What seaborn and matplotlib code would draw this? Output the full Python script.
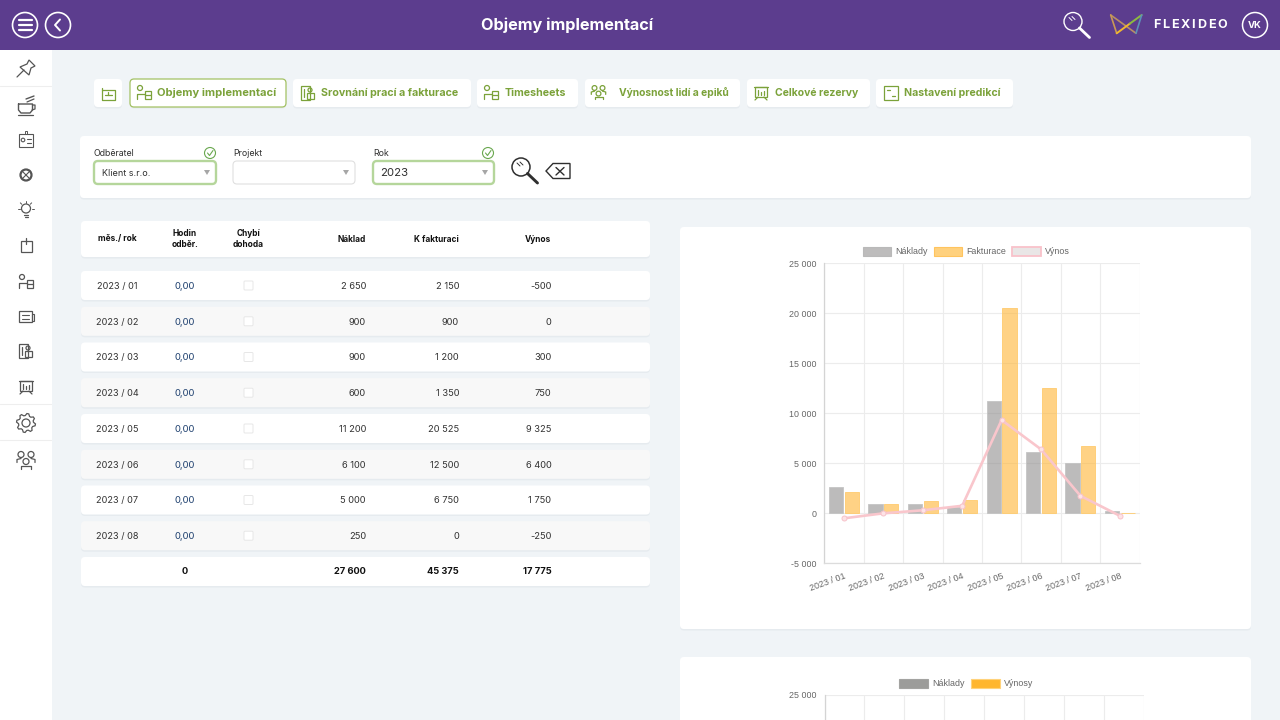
"""Objemy implementací - dashboard screen with table and bar/line chart."""

import numpy as np
import pandas as pd
import seaborn as sns
import matplotlib
matplotlib.use("Agg")
import matplotlib.pyplot as plt
from matplotlib.patches import Circle, FancyBboxPatch, Rectangle, Polygon
from matplotlib.ticker import FuncFormatter, MultipleLocator, FixedLocator, NullFormatter
from matplotlib.transforms import ScaledTranslation

months = ["2023 / 01", "2023 / 02", "2023 / 03", "2023 / 04", "2023 / 05", "2023 / 06", "2023 / 07", "2023 / 08"]
hours = ["0,00"] * 8
naklady = [2650, 900, 900, 600, 11200, 6100, 5000, 250]
fakturace = [2150, 900, 1200, 1350, 20525, 12500, 6750, 0]
vynos = [-500, 0, 300, 750, 9325, 6400, 1750, -250]
totals = ["0", "27 600", "45 375", "17 775"]
nav_labels = ["Objemy implementací", "Srovnání prací a fakturace", "Timesheets",
              "Výnosnost lidí a epiků", "Celkové rezervy", "Nastavení predikcí"]

PURPLE = "#5c3d8e"
PAGE = "#f0f4f7"
GREEN = "#7ba23a"
INK = "#2f2f2f"
ICON = "#555555"
UI_FONT = "Inter"
CHART_FONT = "Liberation Sans"

sns.set_theme(style="white")
plt.rcParams["font.family"] = [UI_FONT, "DejaVu Sans"]

fig = plt.figure(figsize=(12.8, 7.2), dpi=100, facecolor=PAGE)
bg = fig.add_axes([0, 0, 1, 1], zorder=0)
bg.set_xlim(0, 1280)
bg.set_ylim(720, 0)
bg.axis("off")


def card(x0, y0, x1, y1, color="white", edge="none", lw=0, r=4, shadow=True):
    if shadow:
        bg.add_patch(FancyBboxPatch((x0, y0 + 1.5), x1 - x0, y1 - y0, boxstyle=f"round,pad=0,rounding_size={r}",
                                    fc="#e6ebef", ec="none", zorder=1))
    bg.add_patch(FancyBboxPatch((x0, y0), x1 - x0, y1 - y0, boxstyle=f"round,pad=0,rounding_size={r}",
                                fc=color, ec=edge, lw=lw, zorder=2))


def line(xs, ys, color=INK, lw=1.0, z=5):
    bg.plot(xs, ys, color=color, lw=lw, zorder=z, solid_capstyle="round")


def ring(x, y, r, color=INK, lw=1.0, fc="none", z=5):
    bg.add_patch(Circle((x, y), r, fc=fc, ec=color, lw=lw, zorder=z))


def box(x, y, w, h, color=INK, lw=1.0, fc="none", z=5):
    bg.add_patch(Rectangle((x, y), w, h, fc=fc, ec=color, lw=lw, zorder=z))


def label(x, y, s, size=6.5, color=INK, ha="center", weight="normal", family=UI_FONT, z=6):
    bg.text(x, y, s, fontsize=size, color=color, ha=ha, va="center", fontweight=weight, family=family, zorder=z)


def magnifier(x, y, color=INK, lw=1.1):
    ring(x, y, 9, color, lw)
    line([x + 6.5, x + 16.5], [y + 6.5, y + 16], color, lw + 1.0)
    line([x - 4, x - 1], [y - 4, y - 1], color, 0.7)
    line([x - 1, x + 2], [y - 5, y - 2], color, 0.7)


def person_desk(x, y, color=ICON, lw=0.9):
    ring(x - 4, y - 5, 2.5, color, lw)
    line([x - 7, x - 7, x + 1], [y + 6, y + 1, y + 1], color, lw)
    box(x + 1, y - 2, 6, 8, color, lw)
    line([x + 1, x + 7], [y + 2, y + 2], color, lw)


def doc_chart(x, y, color=ICON, lw=0.9):
    box(x - 6, y - 7, 9, 14, color, lw)
    box(x, y, 7, 6, color, lw)
    line([x - 3, x - 3], [y - 4, y + 4], color, lw)
    ring(x + 3, y - 3, 2, color, lw)


def board(x, y, color=ICON, lw=0.9):
    box(x - 6, y - 6, 12, 10, color, lw)
    line([x - 7, x + 7], [y - 6, y - 6], color, lw)
    line([x - 3, x - 6], [y + 4, y + 7], color, lw)
    line([x + 3, x + 6], [y + 4, y + 7], color, lw)
    line([x - 3, x - 3], [y - 3, y + 2], color, lw)
    line([x, x], [y - 1, y + 2], color, lw)
    line([x + 3, x + 3], [y - 2, y + 2], color, lw)


def people(x, y, color=ICON, lw=0.9, k=1.0):
    for dx, dy in [(-5, -5), (5, -5), (0, 2)]:
        ring(x + dx * k, y + dy * k, 3 * k, color, lw, fc="white")
    line([x - 9 * k, x - 9 * k, x - 5 * k], [y + 3 * k, y, y - k], color, lw)
    line([x + 9 * k, x + 9 * k, x + 5 * k], [y + 3 * k, y, y - k], color, lw)
    line([x - 5 * k, x - 5 * k, x + 5 * k, x + 5 * k], [y + 9 * k, y + 6 * k, y + 6 * k, y + 9 * k], color, lw)


def gear(x, y, color=ICON, lw=0.9):
    angles = np.deg2rad(np.arange(0, 360, 11.25) + 5.6)
    radii = [9.5, 9.5, 7.5, 7.5] * 8
    pts = [[x + r * np.cos(a), y + r * np.sin(a)] for r, a in zip(radii, angles)]
    bg.add_patch(Polygon(pts, fc="none", ec=color, lw=lw, zorder=5))
    ring(x, y, 4, color, lw)


# header bar
bg.add_patch(Rectangle((0, 0), 1280, 50, fc=PURPLE, ec="none", zorder=3))
ring(25, 25, 12.5, "white", 1.2, z=5)
for yy in [20, 25, 30]:
    line([18.5, 31.5], [yy, yy], "white", 1.6)
ring(58, 25, 12.5, "white", 1.2, z=5)
line([60, 55, 60], [19.5, 25, 30.5], "white", 1.4)
label(567, 25.5, "Objemy implementací", size=11.7, color="white", weight="bold")
magnifier(1073, 21.5, "white", 1.0)
line([1110.7, 1136], [15, 33.3], "#b98f62", 1.2)
line([1110.7, 1116.7], [15, 33.3], "#c99a55", 1.2)
line([1116.7, 1130], [33.3, 23.5], "#f0b72f", 1.4)
line([1130, 1141.7], [23.5, 15], "#8dbb3f", 1.4)
line([1141.7, 1136], [15, 33.3], "#5c8fb8", 1.2)
for xx, ch in zip([1157, 1166, 1175.3, 1185.3, 1193.1, 1201.2, 1211.5, 1222.2], "FLEXIDEO"):
    bg.text(xx, 24.5, ch, fontsize=9.0, color="white", ha="center", va="center", fontweight="bold",
            family=UI_FONT, zorder=6)
ring(1255, 25, 12.5, "white", 1.1)
label(1255, 25.5, "VK", size=6.8, color="white", weight="bold")

# sidebar
bg.add_patch(Rectangle((0, 50), 51.5, 670, fc="white", ec="none", zorder=3))
for yy in [86, 404, 440]:
    line([0, 51], [yy, yy], "#eeeeee", 0.8)
line([17, 24], [77, 70], ICON, 0.9)
bg.add_patch(Polygon([[29, 60], [35, 66], [31, 68], [29, 75], [20, 67], [27, 64]], fc="none", ec=ICON, lw=0.9, zorder=5))
line([18.5, 18.5, 21, 30, 32.5, 32.5, 18.5], [104, 110, 113, 113, 110, 104, 104], ICON, 1.0)
line([32.5, 35, 35, 32], [105, 105, 109, 110], ICON, 0.9)
line([18, 33], [114.5, 114.5], ICON, 0.9)
line([26, 34], [99, 96], ICON, 1.0)
line([27, 34], [102, 99], ICON, 0.9)
box(19, 134, 14, 13, ICON, 0.8)
ring(23, 140, 1.8, ICON, 0.8)
line([27, 31], [139, 139], ICON, 0.8)
line([27, 31], [143, 143], ICON, 0.8)
box(24.5, 131, 2.5, 3, ICON, 0.7)
ring(26, 175, 5.5, ICON, 1.6)
line([22, 30], [171, 179], ICON, 0.8)
line([30, 22], [171, 179], ICON, 0.8)
ring(26, 208.5, 4.5, ICON, 0.9)
line([24, 28], [215, 215], ICON, 0.9)
line([24.5, 27.5], [217, 217], ICON, 0.9)
for a in np.deg2rad([180, 225, 270, 315, 360]):
    line([26 + 6 * np.cos(a), 26 + 8 * np.cos(a)], [208.5 + 6 * np.sin(a), 208.5 + 8 * np.sin(a)], ICON, 0.7)
box(21, 241, 11, 11, ICON, 0.9)
line([26, 26], [238, 244], ICON, 0.9)
person_desk(26, 282)
box(19, 311, 13, 11, ICON, 0.9)
line([21.5, 29], [315, 315], ICON, 0.8)
line([21.5, 29], [318.5, 318.5], ICON, 0.8)
box(32, 314, 1.5, 7, ICON, 0.8)
doc_chart(25, 351)
board(26, 387)
gear(26, 423)
people(26, 459.5)

# navigation buttons
nav_x = [(130, 286), (293, 471), (477, 578), (585, 740), (747, 870), (876, 1013)]
nav_text_x = [157, 321, 505, 619, 775, 904]
nav_size = [8.0, 7.7, 7.7, 7.4, 7.5, 7.6]
card(94, 79, 122, 107)
line([102, 102, 106, 107.5, 115, 115, 102], [88, 99.5, 99.5, 99.5, 99.5, 89.5, 89.5], GREEN, 0.9)
line([105, 112], [95, 95], GREEN, 0.9)
line([108, 108], [92, 95], GREEN, 0.9)
for i, ((x0, x1), tx, name) in enumerate(zip(nav_x, nav_text_x, nav_labels)):
    card(x0, 79, x1, 107, edge="#a3c164" if i == 0 else "none", lw=0.9 if i == 0 else 0)
    label(tx, 92.8, name, size=nav_size[i], color=GREEN, ha="left", weight="bold")
person_desk(144, 93, GREEN)
doc_chart(307, 93, GREEN)
person_desk(491, 93, GREEN)
people(598.5, 92, GREEN, k=0.8)
board(761, 93, GREEN)
box(884, 86, 14, 14, GREEN, 0.9)
line([887, 890], [90, 90], GREEN, 0.9)
line([892, 895], [96, 96], GREEN, 0.9)

# filter panel
card(80, 136, 1251, 198)
for x0, x1, name, val, active in [(94, 216, "Odběratel", "Klient s.r.o.", True),
                                  (233, 355, "Projekt", "", False),
                                  (373, 494, "Rok", "2023", True)]:
    label(x0, 154, name, size=6.3, ha="left")
    card(x0, 161, x1, 184, edge="#b5d69b" if active else "#e0e0e0", lw=1.7 if active else 0.8, shadow=False)
    label(x0 + (7 if val == "2023" else 8), 173.5, val, size=8.2 if val == "2023" else 6.5, ha="left")
    bg.add_patch(Polygon([[x1 - 12, 170], [x1 - 6, 170], [x1 - 9, 175]], fc="#a6a6a6", ec="none", zorder=6))
    if active:
        ring(x1 - 6, 153, 5.5, "#6aa84f", 0.8)
        line([x1 - 8.5, x1 - 6.5, x1 - 3], [153, 155.5, 150.5], "#6aa84f", 0.8)
magnifier(521, 167, INK, 1.1)
bg.add_patch(Polygon([[546, 171], [553, 163.5], [570, 163.5], [570, 178.5], [553, 178.5]], fc="none", ec=INK, lw=1.0, zorder=5))
line([556, 564], [167.5, 175], INK, 1.0)
line([564, 556], [167.5, 175], INK, 1.0)

# table
col_month, col_hours, col_check, col_cost, col_bill, col_rev = 117, 185, 248.5, 366, 459, 551.5
card(81, 221, 650, 257)
label(col_month, 239, "měs./ rok", size=6, weight="bold", color="#111111")
label(col_hours, 239, "Hodin\nodběr.", size=6, weight="bold", color="#111111")
label(col_check, 239, "Chybí\ndohoda", size=6, weight="bold", color="#111111")
label(col_cost, 239, "Náklad", size=6, ha="right", weight="bold", color="#111111")
label(col_bill, 239, "K fakturaci", size=6, ha="right", weight="bold", color="#111111")
label(col_rev, 239, "Výnos", size=6, ha="right", weight="bold", color="#111111")


def money(v):
    return f"{v:,}".replace(",", " ")


row_y = [285.5, 321.3, 357, 392.7, 428.5, 464.3, 500, 535.7]
for i, y in enumerate(row_y):
    card(81, y - 14.5, 650, y + 14.5, color="white" if i % 2 == 0 else "#f8f8f8")
    ty = y + 0.8
    label(col_month, ty, months[i], size=6.6, color="#333333")
    label(col_hours, ty, hours[i], size=6.8, color="#1d3f6e")
    bg.add_patch(FancyBboxPatch((col_check - 4.5, y - 4.5), 9, 9, boxstyle="round,pad=0,rounding_size=1",
                                fc="white", ec="#e7e7e7", lw=0.7, zorder=5))
    label(col_cost, ty, money(naklady[i]), size=6.7, ha="right", color="#333333")
    label(col_bill, ty, money(fakturace[i]), size=6.7, ha="right", color="#333333")
    label(col_rev, ty, money(vynos[i]), size=6.7, ha="right", color="#333333")
card(81, 557, 650, 586)
for xx, ha, s in zip([col_hours, col_cost, col_bill, col_rev], ["center", "right", "right", "right"], totals):
    label(xx, 571.8, s, size=6.7, ha=ha, weight="bold", color="#111111")

# chart cards
card(680, 227, 1251, 629)
card(680, 657, 1251, 760)


def px_axes(x0, y0, x1, y1):
    return fig.add_axes([x0 / 1280, 1 - y1 / 720, (x1 - x0) / 1280, (y1 - y0) / 720], zorder=2, facecolor="white")


def style_axes(ax, ymin=-5000):
    ax.set_ylim(ymin, 25000)
    ax.set_xlim(-0.5, 7.5)
    ax.set_axisbelow(True)
    ax.yaxis.set_major_locator(MultipleLocator(5000))
    ax.yaxis.set_major_formatter(FuncFormatter(lambda v, _: money(int(v))))
    ax.xaxis.set_major_locator(FixedLocator(np.arange(8)))
    ax.xaxis.set_minor_locator(FixedLocator(np.arange(-0.5, 8)))
    ax.xaxis.set_minor_formatter(NullFormatter())
    ax.grid(True, axis="y", which="major", color="#ececec", lw=0.8)
    ax.grid(True, axis="x", which="minor", color="#ececec", lw=0.8)
    ax.grid(False, axis="x", which="major")
    ax.tick_params(axis="y", which="major", length=4, width=0.8, color="#e4e4e4", labelsize=6.4, labelcolor="#666666", pad=1.5)
    ax.tick_params(axis="x", which="minor", length=4, width=0.8, color="#e4e4e4")
    ax.tick_params(axis="x", which="major", length=0, labelsize=6.5, labelcolor="#666666", pad=6)
    for side in ["top", "right"]:
        ax.spines[side].set_visible(False)
    ax.spines["left"].set_color("#d4d4d4")
    ax.spines["bottom"].set_color("#dcdcdc")
    ax.spines["left"].set_linewidth(0.9)
    ax.spines["bottom"].set_linewidth(0.9)
    ax.set_xlabel("")
    ax.set_ylabel("")
    for t in ax.get_yticklabels() + ax.get_xticklabels():
        t.set_family(CHART_FONT)


# main chart
df = pd.DataFrame({"month": months, "Náklady": naklady, "Fakturace": fakturace})
long_df = df.melt(id_vars="month", var_name="serie", value_name="value")
ax = px_axes(824.3, 263.3, 1139.5, 563.3)
sns.barplot(data=long_df, x="month", y="value", hue="serie", hue_order=["Náklady", "Fakturace"],
            palette=["#bdbcbc", "#ffd17e"], width=0.8, gap=0.1, legend=False, ax=ax)
bar_style = {"Náklady": ((0.55, 0.54, 0.54, 0.58), "#c4c4c4"), "Fakturace": ((1.0, 0.70, 0.18, 0.58), "#ffcb6e")}
for container, name in zip(ax.containers, ["Náklady", "Fakturace"]):
    for bar in container:
        bar.set_facecolor(bar_style[name][0])
        bar.set_edgecolor(bar_style[name][1])
        bar.set_linewidth(0.6)
sns.lineplot(x=np.arange(len(months)), y=vynos, color="#f9c6cc", lw=1.9, marker="o", markersize=3.6,
             markerfacecolor="#fde3e6", markeredgecolor="#f7c2ca", markeredgewidth=0.7, errorbar=None, ax=ax, zorder=5)
style_axes(ax)
ax.set_xticks(np.arange(8), months, rotation=20, ha="right", family=CHART_FONT)
nudge = ScaledTranslation(3 / 100, 0, fig.dpi_scale_trans)
for t in ax.get_xticklabels():
    t.set_transform(t.get_transform() + nudge)

# second chart, only its top edge is on the screen
ax2 = px_axes(824.5, 695, 1143.5, 720)
style_axes(ax2, ymin=22500)
ax2.set_xticks(np.arange(8), months)
ax2.tick_params(axis="x", which="major", labelbottom=False)
ax2.spines["bottom"].set_visible(False)

# chart legends
box(862.5, 247, 28.5, 9, "#b9b9b9", 0.8, fc="#bdbcbc")
label(895, 251.5, "Náklady", size=6.4, ha="left", color="#666666", family=CHART_FONT)
box(933.5, 247, 28.5, 9, "#ffc45e", 0.8, fc="#ffd17e")
label(966.5, 251.5, "Fakturace", size=6.4, ha="left", color="#666666", family=CHART_FONT)
box(1012, 247, 28.5, 9, "#f9c2ca", 1.3, fc="#e9e6e6")
label(1045, 251.5, "Výnos", size=6.4, ha="left", color="#666666", family=CHART_FONT)
box(899, 678.5, 29, 9, "#a3a3a1", 0.8, fc="#9c9c9a")
label(932.5, 683, "Náklady", size=6.4, ha="left", color="#666666", family=CHART_FONT)
box(971, 678.5, 29, 9, "#ffd27a", 0.8, fc="#ffb62e")
label(1004, 683, "Výnosy", size=6.4, ha="left", color="#666666", family=CHART_FONT)

fig.savefig("out.png", dpi=100, facecolor=PAGE)
